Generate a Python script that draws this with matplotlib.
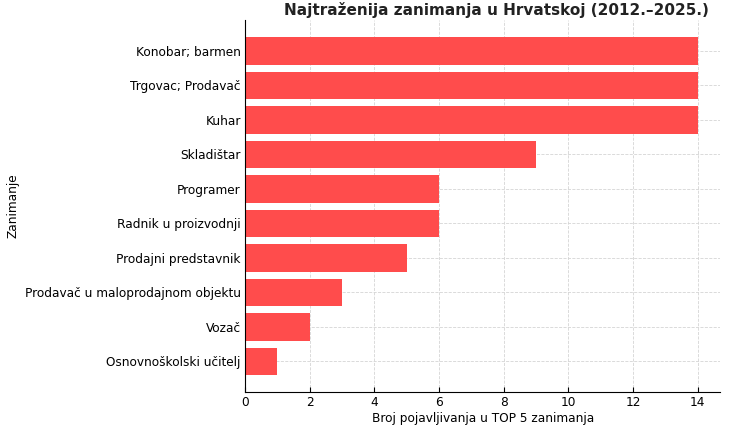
import matplotlib.pyplot as plt

# occupations and how often they appeared in the TOP 5
zanimanja = ["Konobar; barmen", "Trgovac; Prodavač", "Kuhar", "Skladištar",
             "Programer", "Radnik u proizvodnji", "Prodajni predstavnik",
             "Prodavač u maloprodajnom objektu", "Vozač", "Osnovnoškolski učitelj"]
broj = [14, 14, 14, 9, 6, 6, 5, 3, 2, 1]

fig = plt.figure(figsize=(7.38, 4.28), dpi=100)
ax = fig.add_axes([0.332, 0.084, 0.644, 0.869])

# reversed so the largest sits on top
ax.barh(zanimanja[::-1], broj[::-1], color="#ff4c4c", height=0.8)

ax.set_title("Najtraženija zanimanja u Hrvatskoj (2012.–2025.)",
             fontsize=11, fontweight="bold", color="#222222", pad=4, x=0.53)
ax.set_xlabel("Broj pojavljivanja u TOP 5 zanimanja", fontsize=8.7, labelpad=2)
ax.set_ylabel("Zanimanje", fontsize=8.7)
ax.set_xticks(range(0, 15, 2))

ax.grid(True, linestyle="--", color="#d5d5d5", linewidth=0.6)
ax.set_axisbelow(True)
ax.tick_params(direction="in", labelsize=8.7, pad=3)
ax.spines["top"].set_visible(False)
ax.spines["right"].set_visible(False)

plt.savefig("out.png")
